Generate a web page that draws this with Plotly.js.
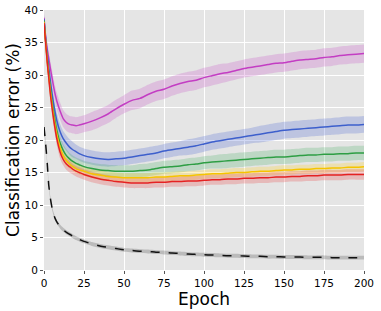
<!DOCTYPE html>
<html>
<head>
<meta charset="utf-8">
<script src="https://cdn.plot.ly/plotly-3.0.1.min.js"></script>
<style>html,body{margin:0;padding:0;background:#fff;}#chart{width:381px;height:311px;}</style>
</head>
<body>
<div id="chart"></div>
<script>
const epochs = [0,1,2,3,4,5,6,7,8,10,12,14,16,18,20,22,25,30,35,40,45,50,55,60,65,70,75,80,85,90,95,100,105,110,115,120,125,130,135,140,145,150,155,160,165,170,175,180,185,190,195,200];

const magenta = [38.8,36.0,34.0,32.5,31.0,29.6,28.2,27.0,26.0,24.5,23.3,22.7,22.4,22.3,22.2,22.3,22.5,22.9,23.4,24.0,24.8,25.5,26.1,26.4,27.0,27.5,27.8,28.3,28.7,29.0,29.2,29.6,29.9,30.2,30.4,30.7,31.0,31.2,31.4,31.6,31.8,31.9,32.1,32.3,32.4,32.5,32.7,32.8,33.0,33.1,33.2,33.3];
const blue = [38.6,35.6,33.2,31.0,29.0,27.2,25.6,24.2,23.0,21.3,20.2,19.5,18.9,18.5,18.2,17.9,17.6,17.3,17.1,17.0,17.1,17.2,17.4,17.6,17.8,18.0,18.3,18.5,18.7,18.9,19.1,19.4,19.7,19.9,20.1,20.3,20.5,20.7,20.9,21.1,21.3,21.5,21.6,21.7,21.8,21.9,22.0,22.1,22.2,22.3,22.3,22.4];
const green = [38.4,35.3,32.6,30.2,28.0,26.0,24.3,22.8,21.5,19.6,18.4,17.6,17.1,16.7,16.4,16.2,15.9,15.6,15.4,15.3,15.2,15.2,15.2,15.3,15.4,15.6,15.8,15.9,16.0,16.2,16.3,16.5,16.6,16.7,16.8,16.9,17.0,17.1,17.2,17.3,17.4,17.4,17.5,17.6,17.7,17.7,17.8,17.8,17.9,17.9,18.0,18.0];
const yellow = [38.2,35.1,32.2,29.8,27.5,25.5,23.7,22.2,20.9,18.9,17.6,16.8,16.3,15.9,15.6,15.4,15.2,14.8,14.6,14.4,14.3,14.2,14.2,14.2,14.2,14.3,14.3,14.4,14.5,14.5,14.6,14.7,14.8,14.8,14.9,15.0,15.0,15.1,15.2,15.2,15.3,15.4,15.4,15.5,15.5,15.6,15.6,15.7,15.7,15.8,15.8,15.9];
const red = [38.0,35.0,32.0,29.5,27.0,25.0,23.2,21.6,20.2,18.2,17.0,16.3,15.9,15.5,15.2,15.0,14.7,14.3,14.0,13.8,13.6,13.5,13.4,13.4,13.4,13.5,13.5,13.6,13.6,13.7,13.7,13.8,13.9,13.9,14.0,14.0,14.1,14.1,14.2,14.2,14.3,14.3,14.4,14.4,14.5,14.5,14.6,14.6,14.6,14.7,14.7,14.7];
const train = [22.0,19.5,16.5,13.0,11.0,9.6,8.6,7.9,7.4,6.7,6.2,5.8,5.5,5.2,4.9,4.7,4.4,4.0,3.7,3.5,3.3,3.1,3.0,2.9,2.85,2.75,2.7,2.6,2.55,2.45,2.4,2.35,2.3,2.25,2.2,2.2,2.15,2.1,2.1,2.05,2.05,2.0,2.0,2.0,1.95,1.95,1.95,1.9,1.9,1.9,1.9,1.9];

const magentaStd = [0.8,0.9,1.0,1.1,1.1,1.2,1.2,1.2,1.3,1.3,1.3,1.3,1.3,1.3,1.3,1.3,1.3,1.4,1.4,1.4,1.4,1.4,1.5,1.5,1.5,1.5,1.5,1.5,1.5,1.5,1.5,1.5,1.5,1.5,1.4,1.4,1.4,1.4,1.4,1.4,1.4,1.4,1.4,1.4,1.4,1.4,1.4,1.4,1.4,1.4,1.4,1.4];
const blueStd = [0.8,0.9,1.0,1.1,1.1,1.2,1.2,1.2,1.2,1.2,1.2,1.2,1.2,1.2,1.1,1.1,1.1,1.1,1.1,1.1,1.1,1.1,1.1,1.1,1.1,1.1,1.1,1.1,1.1,1.2,1.2,1.2,1.2,1.2,1.2,1.2,1.2,1.2,1.3,1.3,1.3,1.3,1.3,1.3,1.3,1.3,1.3,1.3,1.3,1.3,1.3,1.3];
const greenStd = [0.8,0.9,1.0,1.0,1.1,1.1,1.1,1.1,1.1,1.0,1.0,1.0,0.9,0.9,0.9,0.9,0.9,0.9,0.9,0.9,0.9,0.9,0.9,1.0,1.0,1.0,1.0,1.0,1.0,1.0,1.0,1.0,1.0,1.1,1.1,1.1,1.1,1.1,1.1,1.1,1.1,1.1,1.1,1.1,1.1,1.1,1.1,1.1,1.1,1.1,1.1,1.1];
const yellowStd = [0.8,0.9,0.9,0.9,0.9,0.9,0.9,0.9,0.8,0.8,0.8,0.8,0.7,0.7,0.7,0.7,0.7,0.7,0.7,0.7,0.7,0.7,0.7,0.7,0.7,0.7,0.7,0.7,0.7,0.7,0.7,0.7,0.7,0.7,0.7,0.7,0.7,0.7,0.7,0.7,0.7,0.7,0.7,0.7,0.7,0.7,0.7,0.7,0.7,0.7,0.7,0.7];
const redStd = [0.9,1.0,1.1,1.1,1.1,1.1,1.1,1.0,1.0,1.0,0.9,0.9,0.9,0.8,0.8,0.8,0.8,0.8,0.8,0.8,0.8,0.8,0.8,0.8,0.8,0.8,0.8,0.8,0.8,0.8,0.8,0.8,0.8,0.8,0.8,0.8,0.8,0.8,0.8,0.8,0.8,0.8,0.8,0.8,0.8,0.8,0.8,0.8,0.8,0.8,0.8,0.8];
const trainStd = [0.5,0.4,0.3,0.3,0.3,0.3,0.3,0.3,0.3,0.3,0.3,0.3,0.3,0.3,0.3,0.3,0.3,0.3,0.3,0.3,0.3,0.3,0.3,0.3,0.3,0.3,0.3,0.3,0.3,0.3,0.3,0.3,0.3,0.3,0.3,0.3,0.3,0.3,0.3,0.3,0.3,0.3,0.3,0.3,0.3,0.3,0.3,0.3,0.3,0.3,0.3,0.3];

const xTicks = [0,25,50,75,100,125,150,175,200];
const yTicks = [0,5,10,15,20,25,30,35,40];

const series = [
  {y: magenta, s: magentaStd, color: '#c33dc3', fill: 'rgba(200,80,200,0.25)', dash: 'solid'},
  {y: blue, s: blueStd, color: '#3d5fcc', fill: 'rgba(70,100,210,0.25)', dash: 'solid'},
  {y: green, s: greenStd, color: '#2e9e44', fill: 'rgba(50,170,80,0.22)', dash: 'solid'},
  {y: yellow, s: yellowStd, color: '#f5c400', fill: 'rgba(250,210,40,0.28)', dash: 'solid'},
  {y: red, s: redStd, color: '#e52222', fill: 'rgba(235,60,60,0.25)', dash: 'solid'},
  {y: train, s: trainStd, color: '#111111', fill: 'rgba(90,90,90,0.3)', dash: 'dash'}
];

const traces = [];
series.forEach(sr => {
  traces.push({x: epochs, y: sr.y.map((v,i)=>v - sr.s[i]), mode: 'lines', line: {width: 0, color: sr.fill, shape: 'spline', smoothing: 0.6}, hoverinfo: 'skip', showlegend: false});
  traces.push({x: epochs, y: sr.y.map((v,i)=>v + sr.s[i]), mode: 'lines', line: {width: 0, color: sr.fill, shape: 'spline', smoothing: 0.6}, fill: 'tonexty', fillcolor: sr.fill, hoverinfo: 'skip', showlegend: false});
});
series.forEach(sr => {
  traces.push({x: epochs, y: sr.y, mode: 'lines', line: {width: 1.5, color: sr.color, dash: sr.dash, shape: 'spline', smoothing: 0.6}, showlegend: false});
});

const font = {family: 'DejaVu Sans', color: '#000'};
const layout = {
  width: 381, height: 311,
  margin: {l: 44, r: 17, t: 10, b: 41},
  paper_bgcolor: '#ffffff',
  plot_bgcolor: '#e5e5e5',
  showlegend: false,
  xaxis: {
    range: [0, 200], tickvals: xTicks, ticktext: xTicks.map(String),
    showgrid: true, gridcolor: '#ffffff', gridwidth: 1, zeroline: false, showline: false,
    ticks: 'outside', ticklen: 3, tickcolor: '#555', tickwidth: 1,
    tickfont: Object.assign({size: 10.5}, font),
    title: {text: 'Epoch', font: Object.assign({size: 17}, font), standoff: 0}
  },
  yaxis: {
    range: [0, 40], tickvals: yTicks, ticktext: yTicks.map(String),
    showgrid: true, gridcolor: '#ffffff', gridwidth: 1, zeroline: false, showline: false,
    ticks: 'outside', ticklen: 3, tickcolor: '#555', tickwidth: 1,
    tickfont: Object.assign({size: 10.5}, font),
    title: {text: 'Classification error (%)', font: Object.assign({size: 17}, font), standoff: 0}
  }
};
Plotly.newPlot('chart', traces, layout, {staticPlot: true, displayModeBar: false});
</script>
</body>
</html>
